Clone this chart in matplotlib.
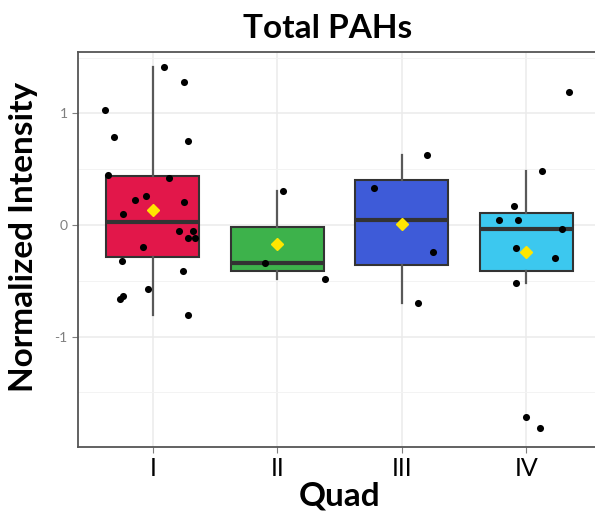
import matplotlib
matplotlib.use("Agg")
import matplotlib.pyplot as plt

quads = ["I", "II", "III", "IV"]
colors = ["#E2174A", "#3DB24B", "#3E5BD8", "#3CC8EF"]

# values, with the horizontal jitter of each point
vals_I = [1.42, 1.28, 1.03, 0.79, 0.75, 0.45, 0.42, 0.26, 0.22, 0.21, 0.10,
          -0.05, -0.05, -0.12, -0.12, -0.20, -0.32, -0.41, -0.57, -0.64, -0.66, -0.81]
jit_I = [0.09, 0.25, -0.38, -0.31, 0.28, -0.36, 0.13, -0.05, -0.14, 0.25, -0.24,
         0.21, 0.32, 0.28, 0.34, -0.08, -0.25, 0.24, -0.04, -0.24, -0.26, 0.28]
vals_II = [0.30, -0.34, -0.48]
jit_II = [0.05, -0.10, 0.38]
vals_III = [0.63, 0.33, -0.24, -0.70]
jit_III = [0.20, -0.22, 0.25, 0.13]
vals_IV = [1.19, 0.48, 0.17, 0.045, 0.04, -0.035, -0.21, -0.30, -0.52, -1.72, -1.82]
jit_IV = [0.34, 0.13, -0.10, -0.22, -0.07, 0.29, -0.08, 0.23, -0.08, 0.0, 0.11]

data = [vals_I, vals_II, vals_III, vals_IV]
jits = [jit_I, jit_II, jit_III, jit_IV]

plt.rcParams["font.family"] = ["Lato", "DejaVu Sans"]
plt.rcParams["axes.unicode_minus"] = False

fig = plt.figure(figsize=(5.95, 5.17), dpi=100)
ax = fig.add_axes([78/595, 1-447/517, (601-78)/595, (447-52)/517])

pos = [1, 2, 3, 4]
bp = ax.boxplot(data, positions=pos, widths=0.75, patch_artist=True,
                showfliers=False, showmeans=True, whis=1.5,
                medianprops=dict(color="#333333", linewidth=3),
                whiskerprops=dict(color="#595959", linewidth=1.6),
                capprops=dict(visible=False),
                boxprops=dict(edgecolor="#333333", linewidth=1.5),
                meanprops=dict(marker="D", markerfacecolor="#FFE600",
                               markeredgecolor="#FFE600", markersize=6.5),
                zorder=2)
for patch, c in zip(bp["boxes"], colors):
    patch.set_facecolor(c)
for m in bp["means"]:
    m.set_zorder(4)

for p, v, j in zip(pos, data, jits):
    ax.scatter([p + d for d in j], v, s=26, color="black", zorder=3, linewidths=0)

ax.set_xlim(0.4, 4.6)
ax.set_ylim(-1.99, 1.55)
ax.set_xticks(pos)
ax.set_xticklabels(quads)
ax.set_yticks([-1, 0, 1])
ax.set_yticks([-1.5, -0.5, 0.5, 1.5], minor=True)
ax.grid(which="major", color="#EBEBEB", linewidth=1.1)
ax.grid(which="minor", axis="y", color="#F3F3F3", linewidth=0.7)
ax.set_axisbelow(True)
for s in ax.spines.values():
    s.set_color("#555555")
    s.set_linewidth(1.3)
ax.tick_params(axis="y", which="major", labelsize=10, labelcolor="#7F7F7F",
               color="#7F7F7F", length=4)
ax.tick_params(axis="y", which="minor", length=0)
ax.tick_params(axis="x", labelsize=18, labelcolor="black", color="#7F7F7F", length=4)

fig.text(328/595, 1-29/517, "Total PAHs", ha="center", va="center",
         fontsize=24, fontweight="bold")
fig.text(24/595, 1-237/517, "Normalized Intensity", ha="center", va="center",
         rotation=90, fontsize=24, fontweight="bold")
fig.text(340/595, 1-496/517, "Quad", ha="center", va="center",
         fontsize=24, fontweight="bold")

fig.savefig("out.png", dpi=100)
